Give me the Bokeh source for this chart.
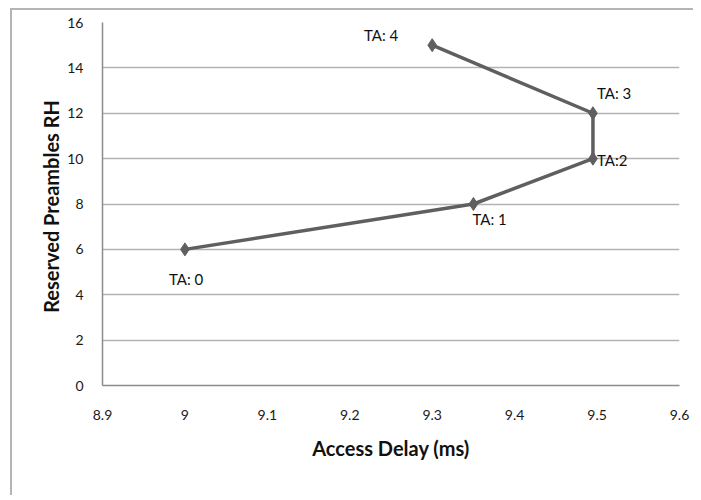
from bokeh.plotting import figure
from bokeh.models import ColumnDataSource, FixedTicker, CustomJSTickFormatter
from bokeh.core.properties import value
from bokeh.embed import file_html
from bokeh.resources import INLINE

# Data
access_delay = [9.0, 9.35, 9.495, 9.495, 9.3]
reserved_preambles = [6, 8, 10, 12, 15]
point_labels = ["TA: 0", "TA: 1", "TA:2", "TA: 3", "TA: 4"]
x_ticks = [8.9, 9.0, 9.1, 9.2, 9.3, 9.4, 9.5, 9.6]
y_ticks = [0, 2, 4, 6, 8, 10, 12, 14, 16]

FONT = "Lato"

p = figure(
    output_backend="svg", toolbar_location=None,
    frame_width=577, frame_height=363,
    x_range=(8.9, 9.6), y_range=(0, 16),
    min_border_left=90, min_border_right=14,
    min_border_top=12, min_border_bottom=110,
)
p.styles = {"border-top": "2px solid #b4b4b4", "border-left": "2px solid #b4b4b4",
            "margin-left": "10px", "margin-top": "8px"}
p.outline_line_color = None
p.background_fill_color = "white"
p.border_fill_color = "white"

# grid
p.xgrid.grid_line_color = None
p.ygrid.grid_line_color = "#b3b3b3"
p.ygrid.grid_line_width = 1.5
p.ygrid.ticker = FixedTicker(ticks=y_ticks)

fmt = CustomJSTickFormatter(code="return String(Math.round(tick*10)/10);")

p.xaxis.ticker = FixedTicker(ticks=x_ticks)
p.xaxis.formatter = fmt
p.yaxis.ticker = FixedTicker(ticks=y_ticks)

for ax in (p.xaxis[0], p.yaxis[0]):
    ax.axis_line_color = "#8c8c8c"
    ax.axis_line_width = 1.5
    ax.major_tick_line_color = None
    ax.minor_tick_line_color = None
    ax.major_label_text_font = FONT
    ax.major_label_text_font_size = "14px"
    ax.major_label_text_color = "#1a1a1a"
    ax.axis_label_text_font = FONT
    ax.axis_label_text_font_size = "20px"
    ax.axis_label_text_font_style = "bold"
    ax.axis_label_text_color = "#111111"

p.xaxis.axis_label = "Access Delay (ms)"
p.yaxis.axis_label = "Reserved  Preambles RH"
p.xaxis.major_label_standoff = 18
p.xaxis.axis_label_standoff = 13
p.yaxis.major_label_standoff = 13
p.yaxis.axis_label_standoff = 1

src = ColumnDataSource(dict(
    x=access_delay, y=reserved_preambles, label=point_labels,
    xo=[-16, -1, 4, 4, -34], yo=[30, 15, 1, -20, -10],
    align=["left", "left", "left", "left", "right"],
))

p.line("x", "y", source=src, line_color="#5f5f5f", line_width=3.5)
p.scatter("x", "y", source=src, marker="diamond", size=13,
          fill_color="#5f5f5f", line_color="#5f5f5f")
p.text("x", "y", text="label", source=src, x_offset="xo", y_offset="yo",
       text_align="align", text_baseline="middle",
       text_font=value(FONT), text_font_size="15px", text_color="#111111")

open("out.html", "w").write(file_html(p, INLINE))
